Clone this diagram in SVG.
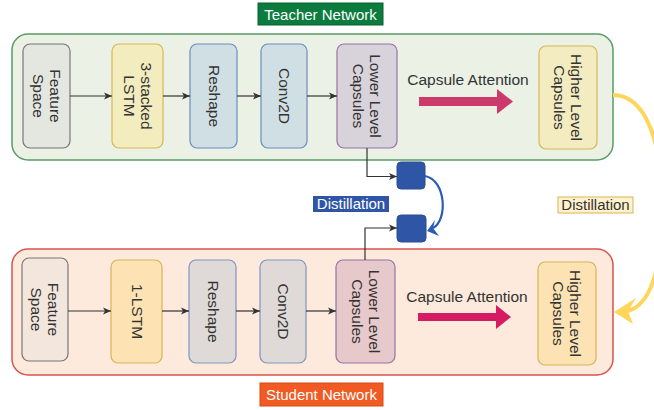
<svg xmlns="http://www.w3.org/2000/svg" width="654" height="410" viewBox="0 0 654 410">
<style>
text{font-family:"Liberation Sans",Arial,sans-serif;font-size:15.5px;fill:#333;}
.lbl{fill:#fff;font-size:15px;}
.node{stroke-width:1.2;}
.conn{fill:none;stroke:#333;stroke-width:1.2;}
</style>
<defs>
<marker id="ah" markerUnits="userSpaceOnUse" markerWidth="10" markerHeight="8" refX="8" refY="4" orient="auto">
<path d="M0,0.5 L8,4 L0,7.5 L2,4 Z" fill="#333"/>
</marker>
</defs>
<rect width="654" height="410" fill="#fff"/>

<g id="teacher-container">
<rect x="12" y="34" width="601" height="126" rx="16" fill="#ebf1e5" stroke="#5b9b66" stroke-width="1.5"/>
</g>
<g id="student-container">
<rect x="12" y="249" width="601" height="126" rx="16" fill="#fdeadc" stroke="#d9534f" stroke-width="1.5"/>
</g>

<g id="teacher-label">
<rect x="258" y="3" width="125" height="22" fill="#0c7b3e" stroke="#086030"/>
<text class="lbl" x="320.5" y="19.5" text-anchor="middle">Teacher Network</text>
</g>
<g id="student-label">
<rect x="260" y="383" width="123" height="23" fill="#f15a22" stroke="#d84a15"/>
<text class="lbl" x="321.5" y="400" text-anchor="middle">Student Network</text>
</g>

<!-- Teacher nodes -->
<g id="t-feature">
<rect class="node" x="23" y="44" width="47" height="104" rx="7" fill="#e4e7e0" stroke="#777"/>
<text transform="rotate(90 46.5 96)" x="46.5" y="96" text-anchor="middle"><tspan x="46.5" dy="-3">Feature</tspan><tspan x="46.5" dy="17">Space</tspan></text>
</g>
<g id="t-lstm">
<rect class="node" x="112" y="44" width="51" height="104" rx="7" fill="#f2ecbf" stroke="#d6b656"/>
<text transform="rotate(90 137.5 96)" x="137.5" y="96" text-anchor="middle"><tspan x="137.5" dy="-3">3-stacked</tspan><tspan x="137.5" dy="17">LSTM</tspan></text>
</g>
<g id="t-reshape">
<rect class="node" x="190" y="44" width="47" height="104" rx="7" fill="#d0dfe3" stroke="#6c8ebf"/>
<text transform="rotate(90 213.5 96)" x="213.5" y="101" text-anchor="middle">Reshape</text>
</g>
<g id="t-conv">
<rect class="node" x="261" y="44" width="46" height="104" rx="7" fill="#d0dfe3" stroke="#6c8ebf"/>
<text transform="rotate(90 284 96)" x="284" y="101" text-anchor="middle">Conv2D</text>
</g>
<g id="t-lower">
<rect class="node" x="337" y="44" width="60" height="104" rx="7" fill="#d8d2da" stroke="#9673a6"/>
<text transform="rotate(90 367 96)" x="367" y="96" text-anchor="middle"><tspan x="367" dy="-3">Lower Level</tspan><tspan x="367" dy="17">Capsules</tspan></text>
</g>
<g id="t-higher">
<rect class="node" x="539" y="46" width="58" height="103" rx="7" fill="#f2ecc0" stroke="#d6b656"/>
<text transform="rotate(90 568 97.5)" x="568" y="97.5" text-anchor="middle"><tspan x="568" dy="-3">Higher Level</tspan><tspan x="568" dy="17">Capsules</tspan></text>
</g>
<g id="t-attn">
<text x="468" y="85" text-anchor="middle">Capsule Attention</text>
<polygon points="419,97 497,97 497,89 513,101.5 497,114 497,106 419,106" fill="#cc3a6c"/>
</g>

<!-- Student nodes -->
<g id="s-feature">
<rect class="node" x="22" y="258" width="46" height="103" rx="7" fill="#f3e6dc" stroke="#777"/>
<text transform="rotate(90 45 309.5)" x="45" y="309.5" text-anchor="middle"><tspan x="45" dy="-3">Feature</tspan><tspan x="45" dy="17">Space</tspan></text>
</g>
<g id="s-lstm">
<rect class="node" x="111" y="260" width="51" height="103" rx="7" fill="#fde3b3" stroke="#d6b656"/>
<text transform="rotate(90 136.5 311.5)" x="136.5" y="316.5" text-anchor="middle">1-LSTM</text>
</g>
<g id="s-reshape">
<rect class="node" x="189" y="260" width="47" height="103" rx="7" fill="#dfdad7" stroke="#7d93c4"/>
<text transform="rotate(90 212.5 311.5)" x="212.5" y="316.5" text-anchor="middle">Reshape</text>
</g>
<g id="s-conv">
<rect class="node" x="260" y="260" width="46" height="103" rx="7" fill="#dfdad7" stroke="#7d93c4"/>
<text transform="rotate(90 283 311.5)" x="283" y="316.5" text-anchor="middle">Conv2D</text>
</g>
<g id="s-lower">
<rect class="node" x="336" y="260" width="59" height="103" rx="7" fill="#e7c9cb" stroke="#9673a6"/>
<text transform="rotate(90 365.5 311.5)" x="365.5" y="311.5" text-anchor="middle"><tspan x="365.5" dy="-3">Lower Level</tspan><tspan x="365.5" dy="17">Capsules</tspan></text>
</g>
<g id="s-higher">
<rect class="node" x="538" y="262" width="58" height="103" rx="7" fill="#fde3b3" stroke="#d6b656"/>
<text transform="rotate(90 567 313.5)" x="567" y="313.5" text-anchor="middle"><tspan x="567" dy="-3">Higher Level</tspan><tspan x="567" dy="17">Capsules</tspan></text>
</g>
<g id="s-attn">
<text x="467" y="302" text-anchor="middle">Capsule Attention</text>
<polygon points="418,313 496,313 496,305 511,317 496,329 496,321 418,321" fill="#d51b62"/>
</g>

<!-- Distillation nodes -->
<g id="d-top">
<rect x="397" y="162" width="28" height="27" rx="4" fill="#2f56a6" stroke="#2a4d94"/>
</g>
<g id="d-bottom">
<rect x="397" y="215" width="29" height="27" rx="4" fill="#2f56a6" stroke="#2a4d94"/>
</g>
<g id="d-label-blue">
<rect x="313" y="196" width="76" height="16" fill="#2f56a6"/>
<text class="lbl" x="351" y="209" text-anchor="middle">Distillation</text>
</g>
<g id="d-label-yellow">
<rect x="558" y="197" width="75" height="16" fill="#fff2cc" stroke="#d6b656"/>
<text x="595.5" y="210" text-anchor="middle" style="font-size:15px">Distillation</text>
</g>

<g id="connectors">
<line class="conn" x1="70" y1="96" x2="112" y2="96" marker-end="url(#ah)"/>
<line class="conn" x1="163" y1="96" x2="190" y2="96" marker-end="url(#ah)"/>
<line class="conn" x1="237" y1="96" x2="261" y2="96" marker-end="url(#ah)"/>
<line class="conn" x1="307" y1="96" x2="337" y2="96" marker-end="url(#ah)"/>
<line class="conn" x1="68" y1="311" x2="111" y2="311" marker-end="url(#ah)"/>
<line class="conn" x1="162" y1="311" x2="189" y2="311" marker-end="url(#ah)"/>
<line class="conn" x1="236" y1="311" x2="260" y2="311" marker-end="url(#ah)"/>
<line class="conn" x1="306" y1="311" x2="336" y2="311" marker-end="url(#ah)"/>
<polyline class="conn" points="367,148 367,176.5 397,176.5" marker-end="url(#ah)"/>
<polyline class="conn" points="365,260 365,228 397,228" marker-end="url(#ah)"/>
<path d="M425,176 C446,180 448,220 433,228" fill="none" stroke="#2a5cb8" stroke-width="2.2"/>
<polygon points="427,231 435,220 433,228 439,236" fill="#2a5cb8"/>
<path d="M613,95 C645,95 662,140 662,205 C662,270 650,305 628,311" fill="none" stroke="#ffd55c" stroke-width="4"/>
<polygon points="614,312 636,298 628,311 633,324" fill="#ffd55c"/>
</g>
</svg>
